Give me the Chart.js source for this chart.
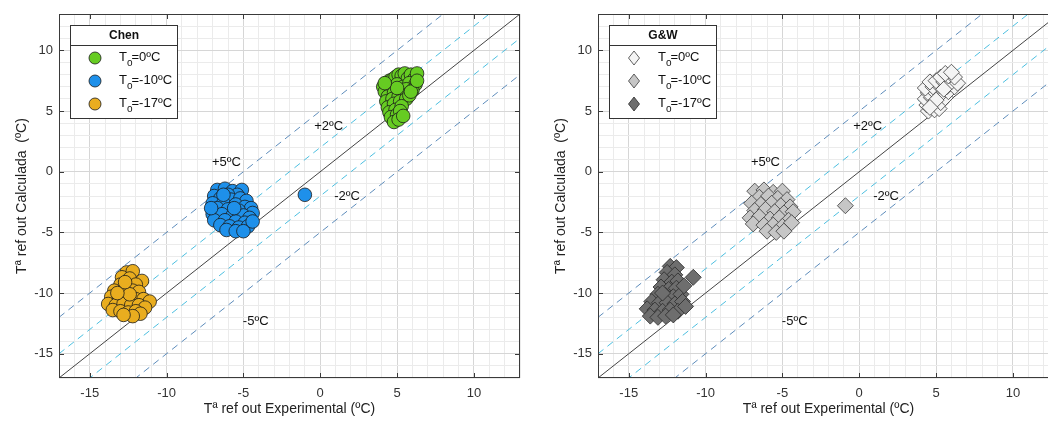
<!DOCTYPE html>
<html lang="es">
<head>
  <meta charset="UTF-8">
  <title>Chen vs G&amp;W</title>
  <script src="https://cdn.jsdelivr.net/npm/chart.js@4.4.1/dist/chart.umd.min.js"></script>
  <style>
    html, body { margin: 0; padding: 0; background: #fff; overflow: hidden; width: 1048px; height: 424px; }
    .panel { position: absolute; top: 0; width: 535px; height: 424px; }
    #left { left: 0; }
    #right { left: 539px; }
  </style>
</head>
<body>
  <div class="panel" id="left"><canvas id="chenChart" width="535" height="424"></canvas></div>
  <div class="panel" id="right"><canvas id="gwChart" width="535" height="424"></canvas></div>
  <script>
    // ejes
    const axisMin = -17;
    const axisMax = 13;
    const xTitle = 'Tª ref out Experimental (ºC)';
    const yTitle = 'Tª ref out Calculada  (ºC)';

    // lineas de referencia (desplazamiento sobre y = x)
    const refOffsets = [0, 2, -2, 5, -5];
    const refLabels = ['+5ºC', '+2ºC', '-2ºC', '-5ºC'];
    const refLabelX = [-6.1, 0.55, 1.75, -4.2];
    const refLabelY = [0.8, 3.7, -2.05, -12.3];

    const seriesNames = ['T_o=0ºC', 'T_o=-10ºC', 'T_o=-17ºC'];

    // Chen, To = 0ºC
    const chen0 = [[4.1,7.0],[4.3,7.3],[4.5,7.5],[4.7,7.6],[4.9,7.8],[5.1,8.0],[5.3,7.9],[5.5,8.1],[5.7,7.7],[5.9,8.0],[6.1,7.6],[6.3,8.1],
      [4.2,6.6],[4.6,6.9],[5.0,7.2],[5.4,7.0],[5.8,7.3],[6.2,7.2],[4.4,6.2],[4.8,6.5],[5.2,6.6],[5.6,6.8],[6.0,6.7],
      [4.3,5.8],[4.7,6.0],[5.1,6.2],[5.5,6.3],[4.4,5.3],[4.8,5.6],[5.2,5.8],[5.6,6.0],[4.5,4.9],[4.9,5.1],[5.3,5.4],
      [4.6,4.5],[5.0,4.7],[5.2,5.0],[4.8,4.1],[5.1,4.3],[5.8,6.3],[5.0,6.9],[5.9,6.6],[6.3,7.5],[4.2,7.3],[5.4,4.6]];
    // Chen, To = -10ºC
    const chen10 = [[-6.7,-1.5],[-6.2,-1.4],[-5.7,-1.6],[-5.1,-1.5],[-5.4,-1.9],[-6.0,-1.9],[-6.9,-2.0],[-6.5,-2.2],[-5.8,-2.3],[-5.2,-2.2],
      [-4.8,-2.4],[-7.0,-2.6],[-6.3,-2.6],[-5.5,-2.7],[-4.9,-2.9],[-4.5,-3.0],[-6.7,-3.0],[-6.0,-3.1],[-5.3,-3.2],[-4.4,-3.4],
      [-7.0,-3.5],[-6.4,-3.5],[-5.7,-3.6],[-5.0,-3.6],[-4.6,-3.8],[-6.9,-4.0],[-6.2,-4.0],[-5.5,-4.1],[-4.9,-4.2],[-6.5,-4.4],
      [-5.9,-4.5],[-5.3,-4.6],[-4.7,-4.5],[-6.1,-4.8],[-5.5,-4.9],[-5.0,-4.9],[-6.3,-1.9],[-5.6,-3.0],[-4.4,-4.1],[-7.1,-3.0],
      [-1.0,-1.9]];
    // Chen, To = -17ºC
    const chen17 = [[-12.6,-8.3],[-12.2,-8.2],[-12.9,-8.7],[-12.4,-8.8],[-11.6,-9.0],[-13.0,-9.3],[-12.5,-9.4],[-12.0,-9.3],[-13.4,-9.8],
      [-12.8,-9.9],[-12.2,-9.8],[-11.8,-9.9],[-13.6,-10.3],[-13.1,-10.4],[-12.6,-10.4],[-12.0,-10.5],[-11.5,-10.5],[-11.1,-10.7],
      [-13.8,-10.9],[-13.3,-11.0],[-12.8,-10.9],[-12.3,-11.0],[-11.8,-11.0],[-11.4,-11.2],[-13.5,-11.4],[-13.0,-11.5],[-12.5,-11.6],
      [-12.0,-11.5],[-11.7,-11.7],[-12.2,-11.9],[-12.8,-11.8],[-12.4,-10.1],[-13.2,-10.0],[-12.7,-9.1]];

    // G&W, To = 0ºC
    const gw0 = [[4.5,5.0],[4.9,5.1],[5.2,5.2],[4.4,5.5],[4.8,5.6],[5.3,5.7],[4.3,6.0],[4.7,6.1],[5.1,6.2],[5.6,6.1],[4.5,6.5],
      [4.9,6.6],[5.4,6.5],[5.8,6.6],[4.3,6.9],[4.8,7.0],[5.2,7.1],[5.7,7.0],[6.2,7.0],[4.6,7.4],[5.0,7.5],[5.5,7.4],[6.0,7.4],
      [6.4,7.3],[5.3,7.8],[5.8,7.9],[6.2,7.8],[5.6,8.1],[6.0,8.2],[5.0,5.9],[5.5,6.8],[4.6,5.3]];
    // G&W, To = -10ºC
    const gw10 = [[-6.8,-1.6],[-6.2,-1.5],[-5.6,-1.7],[-5.0,-1.6],[-6.5,-2.1],[-5.9,-2.0],[-5.3,-2.2],[-4.7,-2.3],[-7.0,-2.6],
      [-6.4,-2.7],[-5.7,-2.6],[-5.1,-2.8],[-4.5,-2.9],[-6.8,-3.2],[-6.1,-3.1],[-5.5,-3.3],[-4.9,-3.4],[-4.3,-3.3],[-7.1,-3.8],
      [-6.5,-3.7],[-5.8,-3.9],[-5.2,-3.8],[-4.6,-4.0],[-6.9,-4.3],[-6.2,-4.4],[-5.6,-4.4],[-5.0,-4.5],[-4.4,-4.2],[-6.0,-4.9],
      [-5.4,-5.0],[-4.9,-4.9],[-0.9,-2.8]];
    // G&W, To = -17ºC
    const gw17 = [[-12.3,-7.8],[-11.9,-7.9],[-12.5,-8.3],[-12.0,-8.5],[-12.7,-8.9],[-12.2,-9.1],[-11.8,-9.0],[-12.9,-9.5],[-12.4,-9.7],
      [-11.9,-9.6],[-13.1,-10.1],[-12.6,-10.2],[-12.1,-10.3],[-11.6,-10.1],[-13.5,-10.7],[-13.0,-10.8],[-12.5,-10.8],[-12.0,-10.9],
      [-11.5,-10.7],[-13.8,-11.3],[-13.3,-11.4],[-12.8,-11.5],[-12.3,-11.4],[-11.8,-11.5],[-13.6,-11.9],[-13.1,-12.0],[-12.6,-11.9],
      [-12.1,-11.8],[-11.3,-11.1],[-10.8,-8.7],[-11.4,-9.4],[-12.8,-10.0]];

    const FONT = "'Liberation Sans', Arial, sans-serif";
    const majorGrid = '#d6d6d6';
    const minorGrid = '#ebebeb';

    function toPoints(arr) {
      return arr.map(p => ({ x: p[0], y: p[1] }));
    }

    function refLines() {
      return refOffsets.map(off => {
        let color = '#444444', dash = [];
        if (Math.abs(off) === 2) { color = '#4cbfe0'; dash = [7, 5]; }
        if (Math.abs(off) === 5) { color = '#5d8cbb'; dash = [7, 5]; }
        return {
          type: 'line',
          data: [{ x: axisMin, y: axisMin + off }, { x: axisMax, y: axisMax + off }],
          borderColor: color,
          borderWidth: 1,
          borderDash: dash,
          pointRadius: 0,
          order: 5
        };
      });
    }

    // marco, marcas, textos y leyenda
    const decoPlugin = {
      id: 'deco',
      afterDraw(chart) {
        const ctx = chart.ctx;
        const a = chart.chartArea;
        const xs = chart.scales.x, ys = chart.scales.y;
        const o = chart.options.plugins.deco;
        ctx.save();
        ctx.strokeStyle = '#3a3a3a';
        ctx.lineWidth = 1;
        ctx.strokeRect(a.left + 0.5, a.top + 0.5, a.right - a.left - 1, a.bottom - a.top - 1);
        // marcas mayores
        ctx.beginPath();
        for (let v = -15; v <= 10; v += 5) {
          const px = Math.round(xs.getPixelForValue(v)) + 0.5;
          ctx.moveTo(px, a.bottom); ctx.lineTo(px, a.bottom - 5);
          ctx.moveTo(px, a.top); ctx.lineTo(px, a.top + 5);
          const py = Math.round(ys.getPixelForValue(v)) + 0.5;
          ctx.moveTo(a.left, py); ctx.lineTo(a.left + 5, py);
          ctx.moveTo(a.right, py); ctx.lineTo(a.right - 5, py);
        }
        ctx.stroke();

        // textos de las lineas
        ctx.fillStyle = '#111';
        ctx.font = '13px ' + FONT;
        ctx.textAlign = 'center';
        ctx.textBaseline = 'middle';
        refLabels.forEach((t, i) => {
          ctx.fillText(t, xs.getPixelForValue(refLabelX[i]), ys.getPixelForValue(refLabelY[i]));
        });

        // leyenda
        const lx = a.left + 11, ly = a.top + 11, lw = 107, lh = 93;
        ctx.fillStyle = '#fff';
        ctx.fillRect(lx, ly, lw, lh);
        ctx.strokeStyle = '#333';
        ctx.strokeRect(lx + 0.5, ly + 0.5, lw, lh);
        ctx.beginPath();
        ctx.moveTo(lx, ly + 20.5); ctx.lineTo(lx + lw, ly + 20.5);
        ctx.stroke();
        ctx.fillStyle = '#111';
        ctx.font = 'bold 12px ' + FONT;
        ctx.fillText(o.title, lx + lw / 2 + 0.5, ly + 11);

        const rows = [ly + 33, ly + 56, ly + 79];
        rows.forEach((ry, i) => {
          const ds = chart.data.datasets[i];
          const mx = lx + 25;
          ctx.beginPath();
          if (ds.pointStyle === 'rectRot') {
            ctx.moveTo(mx, ry - 7); ctx.lineTo(mx + 5.5, ry); ctx.lineTo(mx, ry + 7); ctx.lineTo(mx - 5.5, ry);
            ctx.closePath();
          } else {
            ctx.arc(mx, ry, 6, 0, Math.PI * 2);
          }
          ctx.fillStyle = ds.backgroundColor;
          ctx.fill();
          ctx.strokeStyle = ds.borderColor;
          ctx.lineWidth = 0.8;
          ctx.stroke();

          const parts = seriesNames[i].split('_o');
          ctx.fillStyle = '#111';
          ctx.textAlign = 'left';
          ctx.font = '13px ' + FONT;
          let tx = lx + 49;
          ctx.fillText(parts[0], tx, ry - 1);
          tx += ctx.measureText(parts[0]).width;
          ctx.font = '10px ' + FONT;
          ctx.fillText('o', tx, ry + 5);
          tx += ctx.measureText('o').width - 1;
          ctx.font = '13px ' + FONT;
          ctx.fillText(parts[1], tx, ry - 1);
          ctx.textAlign = 'center';
        });
        ctx.restore();
      }
    };

    function makeChart(id, title, series, style, fills, borders, radius) {
      const datasets = series.map((s, i) => ({
        type: 'scatter',
        data: toPoints(s),
        pointStyle: style,
        pointRadius: radius,
        backgroundColor: fills[i],
        borderColor: borders[i],
        pointBorderWidth: 0.8,
        order: 1
      }));
      refLines().forEach(l => datasets.push(l));

      const axis = (label, isX) => ({
        type: 'linear',
        min: axisMin,
        max: axisMax,
        afterFit: s => { if (isX) s.height = 46; else s.width = 59; },
        border: { display: false },
        grid: {
          drawTicks: false,
          lineWidth: 1,
          color: c => (c.tick && c.tick.value % 5 === 0) ? majorGrid : minorGrid
        },
        ticks: {
          stepSize: 1,
          autoSkip: false,
          maxRotation: 0,
          maxTicksLimit: 100,
          padding: isX ? 8 : 6,
          color: '#333',
          font: { family: FONT, size: 13 },
          callback: v => (v % 5 === 0 ? String(v) : '')
        },
        title: {
          display: true,
          text: label,
          color: '#222',
          font: { family: FONT, size: 14 },
          padding: { top: 14, bottom: 6 }
        }
      });

      return new Chart(document.getElementById(id), {
        data: { datasets },
        plugins: [decoPlugin],
        options: {
          responsive: false,
          animation: false,
          events: [],
          layout: { padding: { left: 0, right: 15, top: 14, bottom: 0 } },
          plugins: {
            legend: { display: false },
            tooltip: { enabled: false },
            deco: { title: title }
          },
          scales: {
            x: axis(xTitle, true),
            y: axis(yTitle, false)
          }
        }
      });
    }

    makeChart('chenChart', 'Chen', [chen0, chen10, chen17], 'circle',
      ['#66cc22', '#1e90ea', '#e9ad1f'], ['#1a1a1a', '#1a1a1a', '#1a1a1a'], 6.8);
    makeChart('gwChart', 'G&W', [gw0, gw10, gw17], 'rectRot',
      ['#f4f4f4', '#c6c6c6', '#6e6e6e'], ['#3a3a3a', '#3a3a3a', '#2a2a2a'], 8);
  </script>
</body>
</html>
